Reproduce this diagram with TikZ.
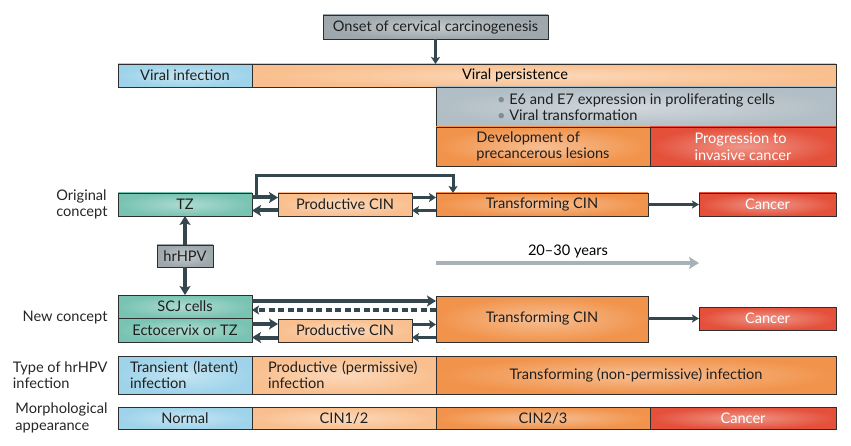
\documentclass[tikz,border=0pt]{standalone}
\usepackage{fontspec}
\setmainfont{Lato}
\usetikzlibrary{arrows.meta}

\definecolor{edge}{HTML}{2E2E2E}
\definecolor{arrowc}{HTML}{34474E}
\definecolor{greybox}{HTML}{9DA7AC}
\definecolor{steel}{HTML}{B2BEC5}
\definecolor{skyblue}{HTML}{9ED3EA}
\definecolor{teal}{HTML}{78C3B2}
\definecolor{peach}{HTML}{F9BF8E}
\definecolor{amber}{HTML}{F1934B}
\definecolor{tomato}{HTML}{E4503A}
\definecolor{timeline}{HTML}{A6B2B8}
\definecolor{dotgrey}{HTML}{7F8C92}

\tikzset{
  cell/.style={draw=edge, line width=0.7pt, inner color=#1!60!white, outer color=#1,
    inner sep=0pt, outer sep=0pt, text=black!88},
  wd/.style={minimum width=#1},
  ht/.style={minimum height=#1},
  redtext/.style={text=white},
  sidelabel/.style={anchor=east, align=left, text=black!85},
  flow/.style={draw=arrowc, line width=4pt, -{Stealth[length=9pt,width=11pt,inset=2pt]}},
  flowthin/.style={draw=arrowc, line width=3pt, -{Stealth[length=7pt,width=9pt,inset=1.5pt]}},
  flowfine/.style={draw=arrowc, line width=2.4pt, -{Stealth[length=7pt,width=8pt,inset=1.5pt]}},
}

\begin{document}
\begin{tikzpicture}[x=1pt, y=-1pt, font=\fontsize{14.6}{16.5}\selectfont]
    \useasboundingbox (0,0) rectangle (851,446);
    % top timeline of events
    \node[cell=greybox, wd=225, ht=24] (onset) at (435.5,27) {Onset of cervical carcinogenesis};
    \node[cell=skyblue, wd=134, ht=23] (viralinf) at (185,75.5) {Viral infection};
    \node[cell=peach, wd=584, ht=23] (viralpers) at (544,75.5) {};
    \node (perslabel) at (515,75.5) {Viral persistence};
    \node[cell=steel, wd=400, ht=40, align=left] (e6) at (636,107)
        {\textcolor{dotgrey}{\textbullet} E6 and E7 expression in proliferating cells\\
         \textcolor{dotgrey}{\textbullet} Viral transformation};
    \node[cell=amber, wd=214, ht=39, align=left] (develop) at (543,146.5) {Development of\\precancerous lesions};
    \node[cell=tomato, wd=186, ht=39, align=left, redtext] (progress) at (743,146.5) {Progression to\\invasive cancer};
    \draw[flowthin] (onset) -- (viralpers.north -| onset.south); %onset arrow

    % original concept
    \node[sidelabel] (origlabel) at (111,204.5) {Original\\concept};
    \node[cell=teal, wd=134, ht=23] (tz) at (185,204.5) {TZ};
    \node[cell=peach, wd=134, ht=23] (prodA) at (345,204.5) {Productive CIN};
    \node[cell=amber, wd=212, ht=23] (transA) at (542,204.5) {Transforming CIN};
    \node[cell=tomato, wd=137, ht=23, redtext] (cancerA) at (767.5,204.5) {Cancer};
    \draw[flow] ([yshift=7pt]tz.east) -- ([yshift=7pt]prodA.west);
    \draw[flow] ([yshift=-6pt]prodA.west) -- ([yshift=-6pt]tz.east);
    \draw[flowthin] ([yshift=7pt]prodA.east) -- ([yshift=7pt]transA.west);
    \draw[flowthin] ([yshift=-6pt]transA.west) -- ([yshift=-6pt]prodA.east);
    \draw[flowthin] ([shift={(4pt,7pt)}]tz.east) -- ++(0,-22) -| ([xshift=-89pt]transA.north); %skip productive
    \draw[flowfine] (transA) -- (cancerA);

    % hrHPV between the two concepts
    \node[cell=greybox, wd=56, ht=22] (hrhpv) at (185,256) {hrHPV};
    \draw[flow] (hrhpv) -- (tz);
    \draw[flow] (hrhpv) -- (hrhpv |- 0,295) coordinate (scjtop);

    % 20-30 years
    \coordinate (tl0) at (436,263);
    \coordinate (tl1) at (699,263);
    \draw[draw=timeline, line width=4pt, -{Stealth[length=10pt,width=12pt,inset=2pt]}] (tl0) -- (tl1);
    \node (years) at (568,251) {20--30 years};

    % new concept
    \node[sidelabel] (newlabel) at (111,318) {New concept};
    \node[cell=teal, wd=134, ht=23] (scj) at (185,306.5) {SCJ cells};
    \node[cell=teal, wd=134, ht=24] (ecto) at (185,330) {Ectocervix or TZ};
    \node[cell=peach, wd=134, ht=23] (prodB) at (345,330.5) {Productive CIN};
    \node[cell=amber, wd=212, ht=46] (transB) at (542,319) {Transforming CIN};
    \node[cell=tomato, wd=137, ht=23, redtext] (cancerB) at (767.5,318.5) {Cancer};
    \path ([yshift=5.5pt]scj.east) coordinate (s1) ([yshift=-3.5pt]scj.east) coordinate (s2);
    \draw[flow] (s1) -- (s1 -| transB.west);
    \draw[flowthin, line width=3.6pt, dash pattern=on 6pt off 3.5pt] (s2 -| transB.west) -- (s2); %dashed return
    \draw[flow] ([yshift=6pt]ecto.east) coordinate (e1) -- (e1 -| prodB.west);
    \draw[flow] ([yshift=-7pt]prodB.west) coordinate (e2) -- (e2 -| ecto.east);
    \draw[flowthin] ([yshift=6pt]prodB.east) coordinate (p1) -- (p1 -| transB.west);
    \draw[flowthin] ([yshift=-7pt]prodB.east) coordinate (p2) (p2 -| transB.west) -- (p2);
    \draw[flowfine] (transB.east |- cancerB) -- (cancerB);

    % type of infection
    \node[sidelabel] (typelabel) at (111,375) {Type of hrHPV\\infection};
    \node[cell=skyblue, wd=134, ht=38, text width=110, align=left] (transient) at (185,375) {Transient (latent)\\infection};
    \node[cell=peach, wd=184, ht=38, text width=152, align=left] (permissive) at (344,375) {Productive (permissive)\\infection};
    \node[cell=amber, wd=400, ht=38] (nonperm) at (636,375) {Transforming (non-permissive) infection};

    % morphology
    \node[sidelabel] (morphlabel) at (111,418) {Morphological\\appearance};
    \node[cell=skyblue, wd=134, ht=22] (normal) at (185,418) {Normal};
    \node[cell=peach, wd=184, ht=22] (cinlow) at (344,418) {CIN1/2};
    \node[cell=amber, wd=214, ht=22] (cinhigh) at (543,418) {CIN2/3};
    \node[cell=tomato, wd=186, ht=22, redtext] (cancerC) at (743,418) {Cancer};
\end{tikzpicture}
\end{document}
